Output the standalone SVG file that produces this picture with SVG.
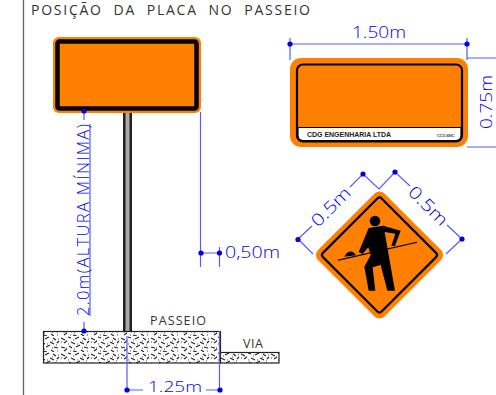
<svg xmlns="http://www.w3.org/2000/svg" width="496" height="395" viewBox="0 0 496 395">
<style>
.t{font-family:"Open Sans","Liberation Sans",Arial,sans-serif;font-weight:400;fill:#333}
.b{font-family:"Open Sans","Liberation Sans",Arial,sans-serif;font-weight:300;fill:#0000f0}
.d{stroke:#5a5aff;stroke-width:1.2;fill:none}
.o{fill:#ff8000}
.k{fill:none;stroke:#000}
</style>
<defs>
<g id="dot"><circle r="2.6" fill="#0000e0"/></g>
<pattern id="conc" width="30" height="16" patternUnits="userSpaceOnUse">
<rect width="30" height="16" fill="#fff"/>
<path d="M1 2l4 2M8 1l3 1M15 3l4-2M23 2l3 2M4 7l3-2M11 6l4 2M20 6l4 2M27 7l2-2M1 11l4 1M9 10l3 2M16 11l4-2M24 11l4 1M4 15l3-2M13 15l4 1M21 14l3 2" stroke="#222" stroke-width="1.1" fill="none"/>
<path d="M6 5h1M13 4h1M22 5h1M28 3h1M8 8h1M17 8h1M26 9h1M6 12h1M14 13h1M22 12h1M1 6h1M10 15h1M27 15h1" stroke="#444" stroke-width="1"/>
</pattern>
</defs>
<rect width="496" height="395" fill="#fff"/>
<line x1="23.5" y1="0" x2="23.5" y2="395" stroke="#666" stroke-width="1.3"/>
<text id="title" class="t" x="31" y="15" font-size="14" font-weight="300" textLength="279" lengthAdjust="spacing" xml:space="preserve">POSIÇÃO  DA  PLACA  NO  PASSEIO</text>

<g id="sign-post">
<rect x="123" y="113" width="9" height="218" fill="#222"/>
<rect x="125.500" y="113" width="4" height="218" fill="#aaa"/>
<rect x="53" y="37" width="148" height="76" rx="6" class="o"/>
<rect x="57.500" y="41.500" width="139" height="67" rx="2" class="k" stroke-width="4.500"/>
</g>

<g id="ground">
<rect x="43.500" y="331.500" width="177" height="31.500" fill="url(#conc)" stroke="#222" stroke-width="1.2"/>
<rect x="220.500" y="352.500" width="58.500" height="10.500" fill="url(#conc)" stroke="#222" stroke-width="1.2"/>
<text class="t" x="150" y="325" font-size="12.500" textLength="56" lengthAdjust="spacing">PASSEIO</text>
<text class="t" x="243" y="348" font-size="12.500" textLength="20" lengthAdjust="spacing">VIA</text>
</g>

<g id="sign-rect">
<rect x="290" y="58" width="178" height="89" rx="11" class="o"/>
<rect x="297" y="64.500" width="165" height="77" rx="6" fill="none" stroke="#000" stroke-width="2.200"/>
<path d="M298 127.500H461V135Q461 140.500 456 140.500H303Q298 140.500 298 135Z" fill="#fff" stroke="#000" stroke-width="1.200"/>
<text x="307" y="137" font-family="Liberation Sans,Arial,sans-serif" font-weight="700" font-size="7.300" fill="#222" textLength="84" lengthAdjust="spacingAndGlyphs">CDG ENGENHARIA LTDA</text>
<text x="437" y="137" font-family="Liberation Sans,Arial,sans-serif" font-weight="700" font-size="3.800" fill="#333">CCO.68IC</text>
</g>

<g id="sign-diamond">
<rect x="332.500" y="208" width="94" height="94" rx="7" transform="rotate(45 379.500 255)" class="o"/>
<rect x="338" y="213.500" width="83" height="83" rx="3" transform="rotate(45 379.500 255)" class="k" stroke-width="2.200"/>
<g transform="translate(280 160) scale(.3333)" fill="#000">
<circle cx="285" cy="183" r="16"/>
<path d="M266 204L310 197L362 212L345 258L334 258L346 221L314 216L322 262L345 392L322 392L302 315L278 322L286 392L266 392L253 320L272 285L265 262L248 282L236 276Z"/>
<path d="M172 299L410 245L412 248L176 302Z"/>
<path d="M193 290Q205 268 222 278L228 286Z"/>
</g>
</g>

<g id="connectors">
<path class="d" d="M84 111V120M90 124V316M84 322V331M200.500 112V267M201 253H219.500M219.500 247V267M127 336V392M219.500 331V392M127 390H143M206 390H220"/>
<path class="d" d="M290 38V60M467 38V60M290 44H467M467 58H496M467 147H496"/>
<path class="d" d="M298 239L312 226M350 187L363 174L379 189L395 172L410 186M447 225L462 239L446 254M298 239L313 254"/>
<use href="#dot" x="84" y="111"/><use href="#dot" x="84" y="331"/>
<use href="#dot" x="201" y="253"/><use href="#dot" x="219.500" y="253"/>
<use href="#dot" x="127" y="390"/><use href="#dot" x="220" y="390"/>
<use href="#dot" x="290" y="44"/><use href="#dot" x="467" y="44"/>
<use href="#dot" x="298" y="239.500"/><use href="#dot" x="363" y="174"/>
<use href="#dot" x="395" y="172"/><use href="#dot" x="462" y="239"/>
</g>

<g id="labels">
<text class="b" transform="translate(88.500 316) rotate(-90)" font-size="16.500" textLength="192" lengthAdjust="spacing">2.0m(ALTURA MÍNIMA)</text>
<text class="b" x="225" y="258" font-size="16.500" textLength="55" lengthAdjust="spacingAndGlyphs">0,50m</text>
<text class="b" x="148" y="392" font-size="15" textLength="54" lengthAdjust="spacingAndGlyphs">1.25m</text>
<text class="b" x="352" y="38" font-size="17" textLength="54" lengthAdjust="spacingAndGlyphs">1.50m</text>
<text class="b" transform="translate(492 129) rotate(-90)" font-size="17" textLength="54" lengthAdjust="spacingAndGlyphs">0.75m</text>
<text class="b" text-anchor="middle" transform="translate(335 211) rotate(-45)" font-size="17" textLength="48" lengthAdjust="spacingAndGlyphs">0.5m</text>
<text class="b" text-anchor="middle" transform="translate(424 210) rotate(45)" font-size="17" textLength="48" lengthAdjust="spacingAndGlyphs">0.5m</text>
</g>
</svg>
